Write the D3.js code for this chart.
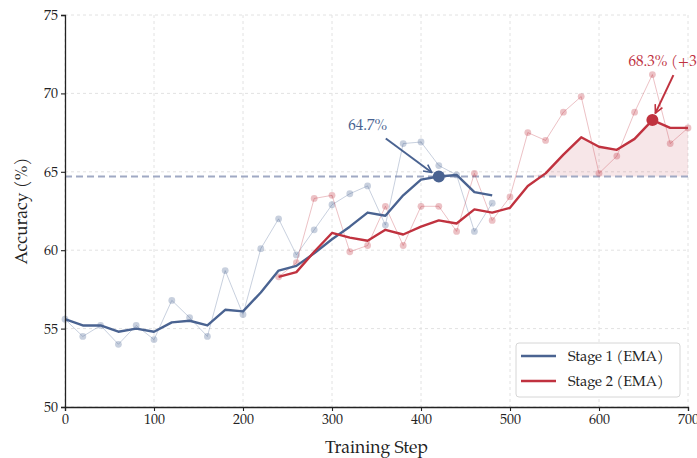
<!DOCTYPE html>
<html>
<head>
<meta charset="utf-8">
<script src="https://cdn.jsdelivr.net/npm/d3@7"></script>
<style>
  body { margin: 0; background: #fff; }
  svg text { font-family: "TeX Gyre Pagella", "Palatino Linotype", "Liberation Serif", serif; }
</style>
</head>
<body>
<svg id="chart" width="697" height="458"></svg>
<script>
// Training steps (every 20 steps)
const stage1Steps = d3.range( 0, 481, 20 );
const stage2Steps = d3.range( 240, 701, 20 );

// Raw accuracy readings
const stage1Raw = [ 55.6, 54.5, 55.2, 54.0, 55.2, 54.3, 56.8, 55.7, 54.5, 58.7,
                    55.9, 60.1, 62.0, 59.7, 61.3, 62.9, 63.6, 64.1, 61.6, 66.8,
                    66.9, 65.4, 64.8, 61.2, 63.0 ];
const stage2Raw = [ 58.3, 59.2, 63.3, 63.5, 59.9, 60.3, 62.8, 60.3, 62.8, 62.8,
                    61.2, 64.9, 61.9, 63.4, 67.5, 67.0, 68.8, 69.8, 64.9, 66.0,
                    68.8, 71.2, 66.8, 67.8 ];

// Smoothed (EMA) curves
const stage1Ema = [ 55.6, 55.2, 55.2, 54.8, 55.0, 54.8, 55.4, 55.5, 55.2, 56.2,
                    56.1, 57.3, 58.7, 59.0, 59.8, 60.7, 61.5, 62.4, 62.2, 63.5,
                    64.5, 64.7, 64.8, 63.7, 63.5 ];
const stage2Ema = [ 58.3, 58.6, 59.9, 61.1, 60.8, 60.6, 61.3, 61.0, 61.5, 61.9,
                    61.7, 62.6, 62.4, 62.7, 64.1, 64.9, 66.1, 67.2, 66.6, 66.4,
                    67.1, 68.3, 67.8, 67.8 ];

const baseline  = 64.7;
const best1     = { step: 420, value: 64.7, label: '64.7%' };
const best2     = { step: 660, value: 68.3, label: '68.3% (+3.6%)' };

const xTicks = [ 0, 100, 200, 300, 400, 500, 600, 700 ];
const yTicks = [ 50, 55, 60, 65, 70, 75 ];
const seriesNames = [ 'Stage 1 (EMA)', 'Stage 2 (EMA)' ];

const blue = '#4a6391';
const red  = '#c0323f';

const margin = { top: 15, right: 9, bottom: 51, left: 65 };
const width  = 697, height = 458;
const innerW = width - margin.left - margin.right;
const innerH = height - margin.top - margin.bottom;

const svg = d3.select( '#chart' );
const defs = svg.append( 'defs' );
defs.append( 'clipPath' ).attr( 'id', 'figclip' )
  .append( 'rect' ).attr( 'width', width ).attr( 'height', height );

[ [ 'arrBlue', blue ], [ 'arrRed', red ] ].forEach( ( [ id, c ] ) => {
  defs.append( 'marker' )
    .attr( 'id', id ).attr( 'viewBox', '0 0 10 10' )
    .attr( 'refX', 9 ).attr( 'refY', 5 )
    .attr( 'markerWidth', 5 ).attr( 'markerHeight', 5 )
    .attr( 'orient', 'auto' ).attr( 'markerUnits', 'strokeWidth' )
    .append( 'path' ).attr( 'd', 'M1,1 L9,5 L1,9' )
      .attr( 'fill', 'none' ).attr( 'stroke', c ).attr( 'stroke-width', 1.6 );
} );

const g = svg.append( 'g' ).attr( 'transform', `translate(${margin.left},${margin.top})` );

const x = d3.scaleLinear().domain( [ 0, 700 ] ).range( [ 0, innerW ] );
const y = d3.scaleLinear().domain( [ 50, 75 ] ).range( [ innerH, 0 ] );

// Grid
g.append( 'g' ).selectAll( 'line' ).data( xTicks ).join( 'line' )
  .attr( 'x1', d => x( d ) ).attr( 'x2', d => x( d ) )
  .attr( 'y1', 0 ).attr( 'y2', innerH )
  .attr( 'stroke', '#e2e2e2' ).attr( 'stroke-dasharray', '3,3' );
g.append( 'g' ).selectAll( 'line' ).data( yTicks ).join( 'line' )
  .attr( 'x1', 0 ).attr( 'x2', innerW )
  .attr( 'y1', d => y( d ) ).attr( 'y2', d => y( d ) )
  .attr( 'stroke', '#e2e2e2' ).attr( 'stroke-dasharray', '3,3' );

// Fill where stage 2 is above the baseline
const s2 = stage2Steps.map( ( s, i ) => ( { s, v: stage2Ema[i] } ) );
g.append( 'path' )
  .datum( s2 )
  .attr( 'd', d3.area().x( d => x( d.s ) ).y0( y( baseline ) ).y1( d => y( Math.max( d.v, baseline ) ) ) )
  .attr( 'fill', red ).attr( 'fill-opacity', 0.12 );

// Baseline
g.append( 'line' )
  .attr( 'x1', 0 ).attr( 'x2', innerW )
  .attr( 'y1', y( baseline ) ).attr( 'y2', y( baseline ) )
  .attr( 'stroke', '#a0a9c4' ).attr( 'stroke-width', 1.8 ).attr( 'stroke-dasharray', '7,4' );

const line = d3.line().x( d => x( d.s ) ).y( d => y( d.v ) );

function drawRaw ( steps, vals, color ) {
  const pts = steps.map( ( s, i ) => ( { s, v: vals[i] } ) );
  g.append( 'path' ).datum( pts ).attr( 'd', line )
    .attr( 'fill', 'none' ).attr( 'stroke', color ).attr( 'stroke-opacity', 0.3 ).attr( 'stroke-width', 1 );
  g.append( 'g' ).selectAll( 'circle' ).data( pts ).join( 'circle' )
    .attr( 'cx', d => x( d.s ) ).attr( 'cy', d => y( d.v ) ).attr( 'r', 3.4 )
    .attr( 'fill', color ).attr( 'fill-opacity', 0.3 );
}
function drawEma ( steps, vals, color ) {
  const pts = steps.map( ( s, i ) => ( { s, v: vals[i] } ) );
  g.append( 'path' ).datum( pts ).attr( 'd', line )
    .attr( 'fill', 'none' ).attr( 'stroke', color ).attr( 'stroke-width', 2.4 )
    .attr( 'stroke-linejoin', 'round' );
}

drawRaw( stage1Steps, stage1Raw, blue );
drawRaw( stage2Steps, stage2Raw, red );
drawEma( stage1Steps, stage1Ema, blue );
drawEma( stage2Steps, stage2Ema, red );

// Best markers
g.append( 'circle' ).attr( 'cx', x( best1.step ) ).attr( 'cy', y( best1.value ) ).attr( 'r', 6 ).attr( 'fill', blue );
g.append( 'circle' ).attr( 'cx', x( best2.step ) ).attr( 'cy', y( best2.value ) ).attr( 'r', 6 ).attr( 'fill', red );

// Annotations
g.append( 'line' )
  .attr( 'x1', x( best1.step ) - 53 ).attr( 'y1', y( best1.value ) - 38 )
  .attr( 'x2', x( best1.step ) - 7 ).attr( 'y2', y( best1.value ) - 4 )
  .attr( 'stroke', blue ).attr( 'stroke-width', 2 ).attr( 'marker-end', 'url(#arrBlue)' );
g.append( 'text' )
  .attr( 'x', x( best1.step ) - 71 ).attr( 'y', y( best1.value ) - 47 )
  .attr( 'text-anchor', 'middle' ).attr( 'font-size', 15 ).attr( 'fill', blue )
  .text( best1.label );

const ann2 = svg.append( 'g' ).attr( 'clip-path', 'url(#figclip)' )
  .attr( 'transform', `translate(${margin.left},${margin.top})` );
ann2.append( 'line' )
  .attr( 'x1', x( best2.step ) + 21 ).attr( 'y1', y( best2.value ) - 45 )
  .attr( 'x2', x( best2.step ) + 3 ).attr( 'y2', y( best2.value ) - 7 )
  .attr( 'stroke', red ).attr( 'stroke-width', 2 ).attr( 'marker-end', 'url(#arrRed)' );
ann2.append( 'text' )
  .attr( 'x', x( best2.step ) - 24 ).attr( 'y', y( best2.value ) - 54 )
  .attr( 'font-size', 15 ).attr( 'fill', red )
  .text( best2.label );

// Axes
const xAxis = g.append( 'g' ).attr( 'transform', `translate(0,${innerH})` )
  .call( d3.axisBottom( x ).tickValues( xTicks ).tickSize( 4 ).tickPadding( 3 ) );
const yAxis = g.append( 'g' )
  .call( d3.axisLeft( y ).tickValues( yTicks ).tickSize( 4 ).tickPadding( 3 ) );
[ xAxis, yAxis ].forEach( a => {
  a.attr( 'font-family', null );
  a.select( '.domain' ).attr( 'stroke', '#222' ).attr( 'stroke-width', 1.3 );
  a.selectAll( '.tick line' ).attr( 'stroke', '#222' ).attr( 'stroke-width', 1.1 );
  a.selectAll( '.tick text' ).attr( 'font-size', 14 ).attr( 'fill', '#222' );
} );

svg.append( 'text' )
  .attr( 'x', margin.left + innerW / 2 ).attr( 'y', 453 )
  .attr( 'text-anchor', 'middle' ).attr( 'font-size', 17.5 ).attr( 'fill', '#222' )
  .text( 'Training Step' );
svg.append( 'text' )
  .attr( 'transform', `translate(27,${margin.top + innerH / 2}) rotate(-90)` )
  .attr( 'text-anchor', 'middle' ).attr( 'font-size', 17.5 ).attr( 'fill', '#222' )
  .text( 'Accuracy (%)' );

// Legend
const lg = svg.append( 'g' ).attr( 'transform', 'translate(516,343)' );
lg.append( 'rect' ).attr( 'width', 164 ).attr( 'height', 54 ).attr( 'rx', 3 )
  .attr( 'fill', '#fff' ).attr( 'fill-opacity', 0.9 ).attr( 'stroke', '#d6d6d6' );
lg.selectAll( 'g.item' ).data( seriesNames ).join( 'g' ).attr( 'class', 'item' )
  .attr( 'transform', ( d, i ) => `translate(0,${13 + i * 25})` )
  .each( function ( d, i ) {
    const it = d3.select( this );
    it.append( 'line' ).attr( 'x1', 5 ).attr( 'x2', 40 )
      .attr( 'stroke', i ? red : blue ).attr( 'stroke-width', 2.4 );
    it.append( 'text' ).attr( 'x', 52 ).attr( 'y', 5 ).attr( 'font-size', 14.5 ).attr( 'fill', '#222' ).text( d );
  } );
</script>
</body>
</html>
